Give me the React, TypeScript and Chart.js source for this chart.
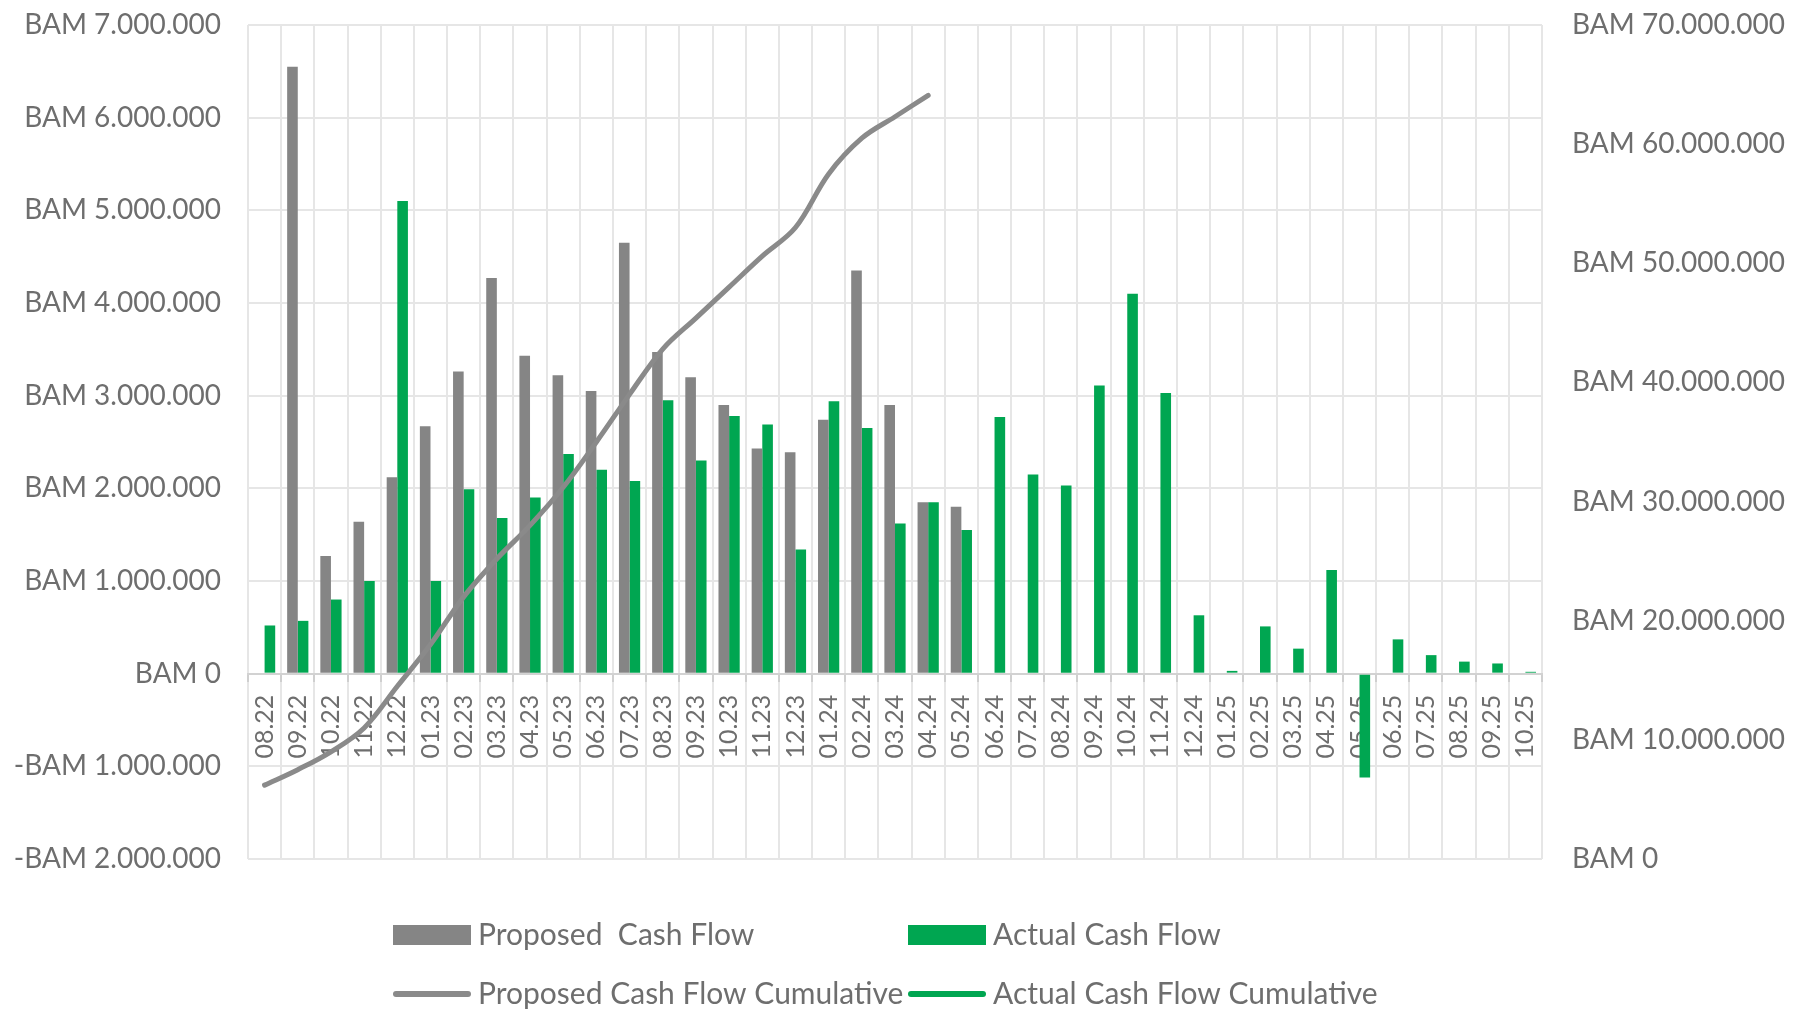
import React, { useEffect, useRef } from "react";
import { Chart, registerables } from "chart.js";

Chart.register(...registerables);

const months = [
  "08.22", "09.22", "10.22", "11.22", "12.22",
  "01.23", "02.23", "03.23", "04.23", "05.23", "06.23", "07.23", "08.23", "09.23", "10.23", "11.23", "12.23",
  "01.24", "02.24", "03.24", "04.24", "05.24", "06.24", "07.24", "08.24", "09.24", "10.24", "11.24", "12.24",
  "01.25", "02.25", "03.25", "04.25", "05.25", "06.25", "07.25", "08.25", "09.25", "10.25",
];

const proposedCashFlow: (number | null)[] = [
  0, 6550000, 1270000, 1640000, 2120000,
  2670000, 3260000, 4270000, 3430000, 3220000, 3050000, 4650000, 3470000, 3200000, 2900000, 2430000, 2390000,
  2740000, 4350000, 2900000, 1850000, 1800000,
];

const actualCashFlow: number[] = [
  520000, 570000, 800000, 1000000, 5100000,
  1000000, 1990000, 1680000, 1900000, 2370000, 2200000, 2080000, 2950000, 2300000, 2780000, 2690000, 1340000,
  2940000, 2650000, 1620000, 1850000, 1550000, 2770000, 2150000, 2030000, 3110000, 4100000, 3030000, 630000,
  30000, 510000, 270000, 1120000, -1120000, 370000, 200000, 130000, 110000, 20000,
];

const proposedCumulative: number[] = [
  6200000, 7500000, 9000000, 11000000, 14500000,
  18000000, 22000000, 25200000, 28000000, 31200000, 35000000, 39000000, 42800000, 45400000, 48000000, 50600000, 53000000,
  57500000, 60500000, 62300000, 64100000,
];

const actualCumulative: (number | null)[] = [];

const seriesLabels = [
  "Proposed  Cash Flow",
  "Actual Cash Flow",
  "Proposed Cash Flow Cumulative",
  "Actual Cash Flow Cumulative",
];

const GREY = "#858585";
const GREEN = "#00a651";
const TEXT = "#6e6e6e";
const GRID = "#e6e6e6";

function fmtBAM(v: number): string {
  const s = Math.round(Math.abs(v)).toString().replace(/\B(?=(\d{3})+(?!\d))/g, ".");
  return (v < 0 ? "-" : "") + "BAM " + s;
}

const gridLegend = {
  id: "gridLegend",
  afterDraw(chart: any) {
    const ctx = chart.ctx as CanvasRenderingContext2D;
    const colX = [393, 908];
    const rowY = [935, 994];
    const kinds = ["box", "box", "line", "line"];
    ctx.save();
    ctx.font = "30px Lato";
    ctx.textBaseline = "middle";
    ctx.textAlign = "left";
    chart.data.datasets.forEach((ds: any, i: number) => {
      const x = colX[i % 2];
      const y = rowY[Math.floor(i / 2)];
      const color = ds.legendColor;
      if (kinds[i] === "box") {
        ctx.fillStyle = color;
        ctx.fillRect(x, y - 10, 78, 20);
      } else {
        ctx.strokeStyle = color;
        ctx.lineWidth = 6;
        ctx.lineCap = "round";
        ctx.beginPath();
        ctx.moveTo(x + 3, y);
        ctx.lineTo(x + 75, y);
        ctx.stroke();
      }
      ctx.fillStyle = TEXT;
      ctx.fillText(ds.label, x + 85, y);
    });
    ctx.restore();
  },
};

export default function App() {
  const ref = useRef<HTMLCanvasElement | null>(null);

  useEffect(() => {
    document.body.style.margin = "0";
    const canvas = ref.current;
    if (!canvas) return;
    const chart = new Chart(canvas, {
      type: "bar",
      data: {
        labels: months,
        datasets: [
          {
            type: "bar",
            label: seriesLabels[0],
            data: proposedCashFlow,
            backgroundColor: GREY,
            legendColor: GREY,
            yAxisID: "y",
            categoryPercentage: 0.64,
            barPercentage: 1.0,
            order: 1,
          } as any,
          {
            type: "bar",
            label: seriesLabels[1],
            data: actualCashFlow,
            backgroundColor: GREEN,
            legendColor: GREEN,
            yAxisID: "y",
            categoryPercentage: 0.64,
            barPercentage: 1.0,
            order: 1,
          } as any,
          {
            type: "line",
            label: seriesLabels[2],
            data: proposedCumulative,
            borderColor: "#8a8a8a",
            legendColor: "#8a8a8a",
            borderWidth: 5,
            borderCapStyle: "round",
            pointRadius: 0,
            tension: 0.35,
            yAxisID: "y1",
            order: -1,
          } as any,
          {
            type: "line",
            label: seriesLabels[3],
            data: actualCumulative,
            borderColor: GREEN,
            legendColor: GREEN,
            borderWidth: 5,
            pointRadius: 0,
            yAxisID: "y1",
            order: -1,
          } as any,
        ],
      },
      options: {
        animation: false,
        responsive: false,
        devicePixelRatio: 1,
        layout: { padding: { top: 25, bottom: 152, left: 0, right: 0 } },
        plugins: {
          legend: { display: false },
          tooltip: { enabled: false },
        },
        scales: {
          x: {
            position: { y: 0 } as any,
            offset: true,
            grid: {
              offset: true,
              color: GRID,
              lineWidth: 2,
              drawTicks: true,
              tickLength: 7,
              tickColor: "#cfcfcf",
            },
            border: { display: true, color: "#d2d2d2", width: 2 },
            ticks: {
              autoSkip: false,
              minRotation: 90,
              maxRotation: 90,
              padding: 14,
              color: TEXT,
              font: { family: "Lato", size: 25 },
            },
          },
          y: {
            type: "linear",
            position: "left",
            min: -2000000,
            max: 7000000,
            afterFit: (s: any) => { s.width = 248; },
            grid: { color: GRID, lineWidth: 2, drawTicks: true, tickLength: 27, tickColor: "rgba(0,0,0,0)" },
            border: { display: false },
            ticks: {
              stepSize: 1000000,
              padding: 0,
              color: TEXT,
              font: { family: "Lato", size: 28 },
              callback: (v: any) => fmtBAM(Number(v)),
            },
          },
          y1: {
            type: "linear",
            position: "right",
            min: 0,
            max: 70000000,
            afterFit: (s: any) => { s.width = 264; },
            grid: { display: true, drawOnChartArea: false, drawTicks: true, tickLength: 30, tickColor: "rgba(0,0,0,0)", color: "rgba(0,0,0,0)" },
            border: { display: false },
            ticks: {
              stepSize: 10000000,
              padding: 0,
              color: TEXT,
              font: { family: "Lato", size: 28 },
              callback: (v: any) => fmtBAM(Number(v)),
            },
          },
        },
      } as any,
      plugins: [gridLegend],
    });
    return () => chart.destroy();
  }, []);

  return (
    <div style={{ position: "fixed", left: 0, top: 0, width: 1806, height: 1011, background: "#fff" }}>
      <canvas ref={ref} width={1806} height={1011} style={{ display: "block", width: 1806, height: 1011 }} />
    </div>
  );
}
